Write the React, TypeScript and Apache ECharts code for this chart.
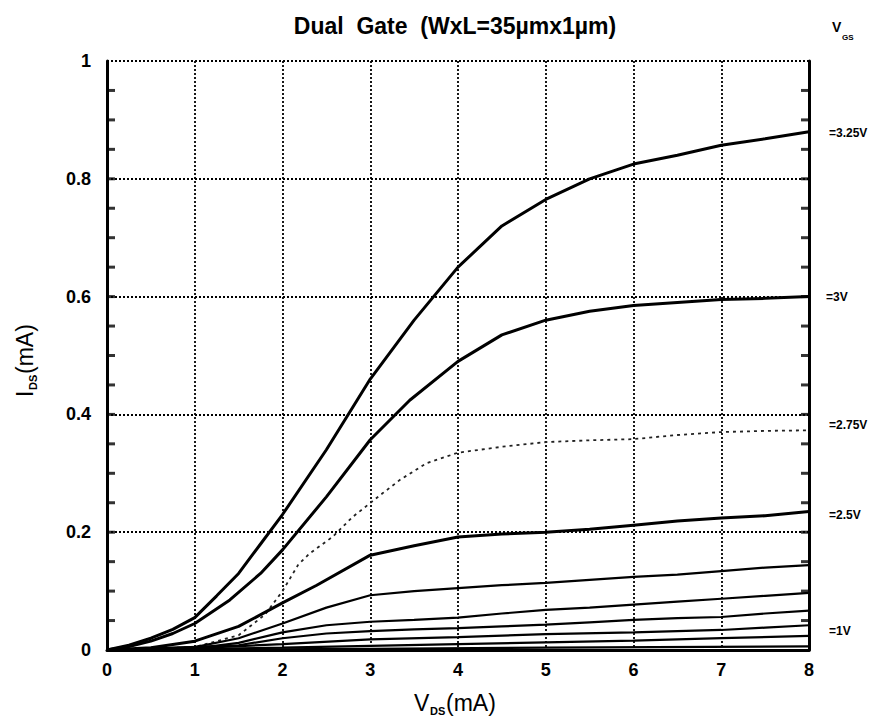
import React, { useEffect, useRef } from "react";
import * as echarts from "echarts";

// ---- data (V_DS in V, I_DS in mA) ----
const xTicks = [0, 1, 2, 3, 4, 5, 6, 7, 8];
const yTicks = [0, 0.2, 0.4, 0.6, 0.8, 1];
const yMinorTicks = [0.05, 0.1, 0.15, 0.2, 0.25, 0.3, 0.35, 0.4, 0.45, 0.5, 0.55, 0.6, 0.65, 0.7, 0.75, 0.8, 0.85, 0.9, 0.95];

const curve325: number[][] = [[0,0],[0.25,0.008],[0.5,0.02],[0.75,0.035],[1,0.055],[1.25,0.092],[1.5,0.13],[1.75,0.18],[2,0.23],[2.5,0.34],[2.85,0.424],[3,0.46],[3.5,0.56],[4,0.65],[4.5,0.72],[5,0.765],[5.5,0.8],[6,0.825],[6.5,0.84],[7,0.857],[7.5,0.868],[8,0.88]];
const curve300: number[][] = [[0,0],[0.25,0.006],[0.5,0.015],[0.75,0.028],[1,0.045],[1.4,0.085],[1.75,0.13],[2,0.17],[2.5,0.26],[3,0.357],[3.45,0.424],[4,0.49],[4.5,0.535],[5,0.56],[5.5,0.575],[6,0.585],[6.5,0.59],[7,0.595],[7.5,0.597],[8,0.6]];
const curve275: number[][] = [[0,0],[1,0.005],[1.5,0.025],[1.8,0.06],[2,0.1],[2.18,0.145],[2.31,0.164],[2.57,0.192],[2.8,0.226],[3.14,0.266],[3.34,0.289],[3.64,0.317],[4,0.335],[4.5,0.345],[5,0.353],[5.5,0.356],[6,0.358],[6.5,0.365],[7,0.37],[7.5,0.372],[8,0.373]];
const curve250: number[][] = [[0,0],[0.5,0.004],[1,0.015],[1.5,0.04],[2,0.08],[2.39,0.11],[3,0.161],[3.5,0.177],[4,0.192],[4.5,0.197],[5,0.2],[5.5,0.205],[6,0.212],[6.5,0.219],[7,0.224],[7.5,0.228],[8,0.235]];
const curve225: number[][] = [[0,0],[1,0.005],[1.5,0.02],[2,0.045],[2.5,0.072],[3,0.093],[3.5,0.1],[4,0.105],[4.5,0.11],[5,0.114],[5.5,0.119],[6,0.124],[6.5,0.128],[7,0.134],[7.5,0.14],[8,0.144]];
const curve200: number[][] = [[0,0],[1,0.003],[1.5,0.012],[2,0.03],[2.5,0.042],[3,0.048],[3.5,0.051],[4,0.055],[4.5,0.062],[5,0.068],[5.5,0.072],[6,0.077],[6.5,0.082],[7,0.087],[7.5,0.092],[8,0.097]];
const curve175: number[][] = [[0,0],[1.5,0.008],[2,0.02],[2.5,0.028],[3,0.032],[3.5,0.035],[4,0.037],[4.5,0.04],[5,0.043],[5.5,0.047],[6,0.051],[6.5,0.054],[7,0.056],[7.5,0.062],[8,0.067]];
const curve150: number[][] = [[0,0],[1,0.003],[2,0.01],[3,0.018],[4,0.022],[5,0.027],[6,0.03],[7,0.034],[7.5,0.038],[8,0.042]];
const curve125: number[][] = [[0,0],[2,0.004],[3,0.007],[4,0.01],[5,0.013],[6,0.016],[7,0.02],[8,0.024]];
const curve100: number[][] = [[0,0],[3,0.002],[5,0.004],[8,0.006]];

const seriesNames = ["3.25V", "3V", "2.75V", "2.5V", "2.25V", "2V", "1.75V", "1.5V", "1.25V", "1V"];
const seriesData = [curve325, curve300, curve275, curve250, curve225, curve200, curve175, curve150, curve125, curve100];

const rightLabels = ["=3.25V", "=3V", "=2.75V", "=2.5V", "=1V"];
const rightLabelY = [133, 297, 425, 515, 631];

const FONT = "'Liberation Sans', Arial, Helvetica, sans-serif";

export default function App() {
  const ref = useRef<HTMLDivElement>(null);

  useEffect(() => {
    if (!ref.current) return;
    const chart = echarts.init(ref.current, undefined, { renderer: "svg" });

    const xMin = xTicks[0];
    const xMax = xTicks[xTicks.length - 1];

    const series: any[] = seriesData.map((d, i) => {
      const dotted = seriesNames[i] === "2.75V";
      const thick = i < 4;
      return {
        name: seriesNames[i],
        type: "line",
        data: d,
        showSymbol: false,
        symbol: "none",
        smooth: false,
        z: 3,
        lineStyle: dotted
          ? { color: "#222", width: 1.8, type: [3, 4] }
          : { color: "#000", width: thick ? 3 : 2.2 },
      };
    });
    // inward tick marks on the left and right frame (drawn at the tick values)
    series.push(
      {
        name: "ticksLeft",
        type: "scatter",
        data: yMinorTicks.map((v) => [xMin, v]),
        symbol: "rect",
        symbolSize: [8, 3],
        symbolOffset: [4, 0],
        itemStyle: { color: "#000" },
        clip: false,
        silent: true,
        z: 4,
      },
      {
        name: "ticksRight",
        type: "scatter",
        data: yMinorTicks.map((v) => [xMax, v]),
        symbol: "rect",
        symbolSize: [8, 3],
        symbolOffset: [-4, 0],
        itemStyle: { color: "#000" },
        clip: false,
        silent: true,
        z: 4,
      }
    );

    const rightTexts = rightLabels.map((t, i) => ({
      type: "text",
      style: {
        text: t,
        x: t === "=3V" ? 826 : 829,
        y: rightLabelY[i],
        textAlign: "left",
        textVerticalAlign: "middle",
        fill: "#000",
        font: `bold 12px ${FONT}`,
      },
    }));

    const option: any = {
      animation: false,
      backgroundColor: "#fff",
      title: {
        text: "Dual  Gate  (WxL=35µmx1µm)",
        left: 450,
        top: 9,
        textAlign: "center",
        textStyle: { fontSize: 23, fontWeight: "bold", color: "#000", fontFamily: FONT },
      },
      grid: { left: 107, top: 61, width: 702, height: 589 },
      xAxis: {
        type: "value",
        min: xMin,
        max: xMax,
        interval: 1,
        axisLine: { show: true, onZero: false, lineStyle: { color: "#000", width: 3 } },
        axisTick: { show: false },
        axisLabel: {
          color: "#000",
          fontSize: 18,
          fontWeight: "bold",
          fontFamily: FONT,
          margin: 11,
        },
        splitLine: { show: true, lineStyle: { color: "#000", width: 1.8, type: [2, 2] } },
      },
      yAxis: [
        {
          type: "value",
          min: yTicks[0],
          max: yTicks[yTicks.length - 1],
          interval: 0.2,
          axisLine: { show: true, onZero: false, lineStyle: { color: "#000", width: 3 } },
          axisTick: { show: false },
          axisLabel: {
            color: "#000",
            fontSize: 18,
            fontWeight: "bold",
            fontFamily: FONT,
            margin: 16,
          },
          splitLine: { show: true, lineStyle: { color: "#000", width: 1.8, type: [2, 2] } },
        },
        {
          type: "value",
          position: "right",
          min: yTicks[0],
          max: yTicks[yTicks.length - 1],
          interval: 0.2,
          axisLine: { show: true, onZero: false, lineStyle: { color: "#000", width: 3 } },
          axisTick: { show: false },
          axisLabel: { show: false },
          splitLine: { show: false },
        },
      ],
      series,
      graphic: [
        // y-axis name I_DS(mA)
        {
          type: "group",
          x: 25,
          y: 360,
          rotation: Math.PI / 2,
          children: [
            { type: "text", style: { text: "I", x: -37, y: 0, textVerticalAlign: "middle", fill: "#000", font: `23px ${FONT}` } },
            { type: "text", style: { text: "DS", x: -30, y: 8, textVerticalAlign: "middle", fill: "#000", font: `bold 11px ${FONT}` } },
            { type: "text", style: { text: "(mA)", x: -14, y: 0, textVerticalAlign: "middle", fill: "#000", font: `23px ${FONT}` } },
          ],
        },
        // x-axis name V_DS(mA)
        {
          type: "group",
          x: 455,
          y: 703,
          children: [
            { type: "text", style: { text: "V", x: -41, y: 0, textVerticalAlign: "middle", fill: "#000", font: `23px ${FONT}` } },
            { type: "text", style: { text: "DS", x: -25, y: 8, textVerticalAlign: "middle", fill: "#000", font: `bold 11px ${FONT}` } },
            { type: "text", style: { text: "(mA)", x: -9, y: 0, textVerticalAlign: "middle", fill: "#000", font: `23px ${FONT}` } },
          ],
        },
        // V_GS header
        { type: "text", style: { text: "V", x: 832, y: 27, textVerticalAlign: "middle", fill: "#000", font: `bold 14px ${FONT}` } },
        { type: "text", style: { text: "GS", x: 842, y: 37, textVerticalAlign: "middle", fill: "#000", font: `bold 8px ${FONT}` } },
        ...rightTexts,
      ],
    };

    chart.setOption(option);
    return () => chart.dispose();
  }, []);

  return (
    <div
      ref={ref}
      style={{ position: "fixed", left: 0, top: 0, width: 881, height: 728, background: "#fff" }}
    />
  );
}
